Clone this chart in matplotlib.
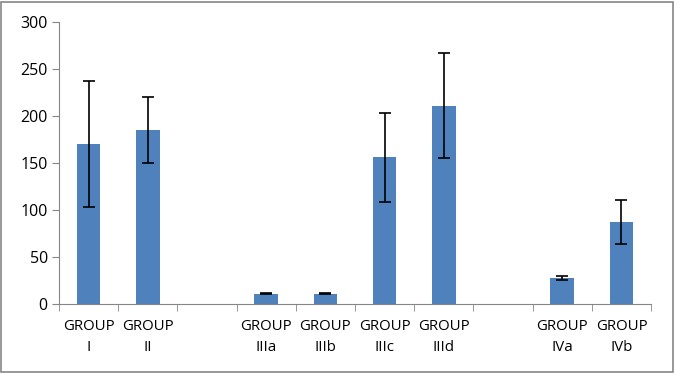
import matplotlib
matplotlib.use("Agg")
import matplotlib.pyplot as plt
from matplotlib.patches import Rectangle
import numpy as np

labels = ["GROUP\nI", "GROUP\nII", "", "GROUP\nIIIa", "GROUP\nIIIb",
          "GROUP\nIIIc", "GROUP\nIIId", "", "GROUP\nIVa", "GROUP\nIVb"]
values = [170, 185, np.nan, 11, 11, 156, 211, np.nan, 27.5, 87]
errors = [67, 35, np.nan, 0.8, 0.8, 47, 56, np.nan, 1.8, 23.5]

plt.rcParams['font.family'] = ['Open Sans', 'DejaVu Sans']

fig = plt.figure(figsize=(6.74, 3.73), dpi=100)
ax = fig.add_axes([0.0875, 0.185, 0.8785, 0.756])

x = np.arange(len(labels))
ax.bar(x, values, width=0.4, color="#4f81bd", zorder=2)
ax.errorbar(x, values, yerr=errors, fmt="none", ecolor="black",
            elinewidth=1.2, capsize=4, capthick=1.2, zorder=3)

ax.set_xlim(-0.5, len(labels) - 0.5)
ax.set_ylim(0, 300)
ax.set_yticks(range(0, 301, 50))
ax.set_xticks(x)
ax.set_xticklabels(labels, fontsize=10.8, linespacing=1.5)
ax.set_xticks(np.arange(-0.5, len(labels), 1), minor=True)
ax.tick_params(axis="x", which="major", length=0, pad=11)
ax.tick_params(axis="x", which="minor", length=5, color="#868686", direction="out")
ax.tick_params(axis="y", length=5, color="#868686", labelsize=11.5, pad=3)

for side in ["top", "right"]:
    ax.spines[side].set_visible(False)
for side in ["left", "bottom"]:
    ax.spines[side].set_color("#868686")

fig.patches.append(Rectangle((0.002, 0.004), 0.996, 0.99, transform=fig.transFigure,
                             fill=False, edgecolor="#868686", linewidth=1.2))

fig.savefig("out.png", dpi=100)
